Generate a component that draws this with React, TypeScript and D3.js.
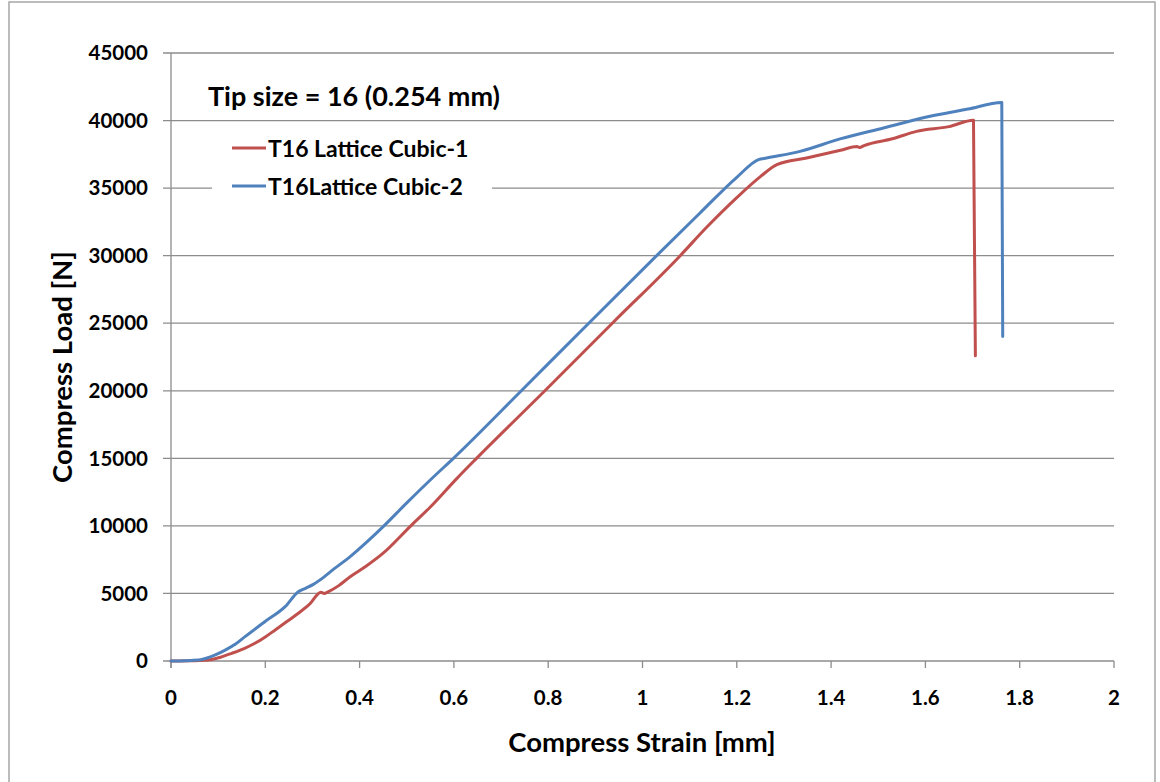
import React from 'react';
import * as d3 from 'd3';

// Series 1 (red) – T16 Lattice Cubic-1
const strain1 = [0, 0.04, 0.079, 0.105, 0.129, 0.155, 0.178, 0.2, 0.221, 0.245, 0.27, 0.295, 0.318, 0.325, 0.332, 0.355, 0.38, 0.415, 0.45, 0.507, 0.55, 0.606, 0.648, 0.793, 0.936, 1.08, 1.136, 1.2, 1.25, 1.285, 1.348, 1.42, 1.455, 1.46, 1.47, 1.53, 1.581, 1.65, 1.702, 1.706];
const load1 = [0, 10, 70, 280, 570, 920, 1310, 1780, 2300, 2900, 3530, 4250, 5080, 5000, 5100, 5560, 6240, 7050, 7980, 9950, 11400, 13500, 15000, 20000, 25000, 30000, 32100, 34300, 35850, 36740, 37230, 37800, 38080, 38000, 38150, 38650, 39200, 39550, 40020, 22590];

// Series 2 (blue) – T16Lattice Cubic-2
const strain2 = [0, 0.03, 0.058, 0.085, 0.115, 0.137, 0.157, 0.199, 0.242, 0.27, 0.285, 0.301, 0.316, 0.345, 0.38, 0.415, 0.45, 0.5, 0.556, 0.599, 0.743, 0.886, 1.03, 1.122, 1.2, 1.246, 1.263, 1.334, 1.419, 1.511, 1.61, 1.69, 1.762, 1.764];
const load2 = [0, 20, 70, 330, 810, 1250, 1800, 2910, 4020, 5130, 5380, 5650, 6000, 6800, 7730, 8800, 9950, 11700, 13600, 15000, 20000, 25000, 30000, 33160, 35800, 37110, 37230, 37720, 38640, 39450, 40320, 40850, 41330, 24020];

const seriesNames = ['T16 Lattice Cubic-1', 'T16Lattice Cubic-2'];
const seriesColors = ['#C0504D', '#4F81BD'];
const xTicks = [0, 0.2, 0.4, 0.6, 0.8, 1, 1.2, 1.4, 1.6, 1.8, 2];
const yTicks = [0, 5000, 10000, 15000, 20000, 25000, 30000, 35000, 40000, 45000];
const chartTitle = 'Tip size = 16 (0.254 mm)';
const xTitle = 'Compress Strain [mm]';
const yTitle = 'Compress Load [N]';

const W = 1160;
const H = 782;
const font = 'Lato, "Open Sans", sans-serif';
const gridColor = '#8c8c8c';

export default function App() {
  const x = d3.scaleLinear().domain([0, 2]).range([171, 1114]);
  const y = d3.scaleLinear().domain([0, 45000]).range([661, 53]);

  const line = d3
    .line<[number, number]>()
    .x((d) => x(d[0]))
    .y((d) => y(d[1]))
    .curve(d3.curveMonotoneX);

  const series = [
    strain1.map((s, i) => [s, load1[i]] as [number, number]),
    strain2.map((s, i) => [s, load2[i]] as [number, number]),
  ];

  return (
    <div style={{ position: 'absolute', left: 0, top: 0 }}>
      <svg width={W} height={H} style={{ display: 'block', background: '#fff' }}>
        {/* outer frame */}
        <rect x={9} y={2} width={1146} height={800} fill="#fff" stroke="#a6a6a6" strokeWidth={1.5} />

        {/* horizontal gridlines with outward ticks */}
        {yTicks.map((t) => (
          <line key={t} x1={163} x2={x(2)} y1={y(t)} y2={y(t)} stroke={gridColor} strokeWidth={1.3} />
        ))}
        {/* y axis */}
        <line x1={x(0)} x2={x(0)} y1={y(45000)} y2={y(0) + 7} stroke={gridColor} strokeWidth={1.3} />
        {/* x ticks */}
        {xTicks.map((t) => (
          <line key={t} x1={x(t)} x2={x(t)} y1={y(0)} y2={y(0) + 7} stroke={gridColor} strokeWidth={1.3} />
        ))}

        {/* tick labels */}
        {yTicks.map((t) => (
          <text key={t} x={148} y={y(t) + 2} textAnchor="end" dominantBaseline="middle"
            fontFamily={font} fontWeight="bold" fontSize={20.5} fill="#000">
            {t}
          </text>
        ))}
        {xTicks.map((t) => (
          <text key={t} x={x(t)} y={700} textAnchor="middle" dominantBaseline="middle"
            fontFamily={font} fontWeight="bold" fontSize={20.5} fill="#000">
            {t}
          </text>
        ))}

        {/* legend box */}
        <rect x={212} y={131} width={280} height={73} fill="#fff" />

        {/* series */}
        {series.map((d, i) => (
          <path key={i} d={line(d) || ''} fill="none" stroke={seriesColors[i]} strokeWidth={3}
            strokeLinejoin="round" strokeLinecap="round" />
        ))}

        {/* title */}
        <text x={208} y={106} fontFamily={font} fontWeight="bold" fontSize={27} fill="#000">
          {chartTitle}
        </text>

        {/* legend */}
        {seriesNames.map((n, i) => (
          <g key={n} transform={`translate(0,${148 + i * 38})`}>
            <line x1={232} x2={266} y1={0} y2={0} stroke={seriesColors[i]} strokeWidth={3} />
            <text x={268} y={0} dominantBaseline="middle" dy={3} fontFamily={font} fontWeight="bold"
              fontSize={23} fill="#000">
              {n}
            </text>
          </g>
        ))}

        {/* axis titles */}
        <text x={642} y={745} textAnchor="middle" dominantBaseline="middle" fontFamily={font}
          fontWeight="bold" fontSize={27.5} fill="#000">
          {xTitle}
        </text>
        <text transform="translate(65,367) rotate(-90)" textAnchor="middle" dominantBaseline="middle"
          fontFamily={font} fontWeight="bold" fontSize={27.5} fill="#000">
          {yTitle}
        </text>
      </svg>
    </div>
  );
}
